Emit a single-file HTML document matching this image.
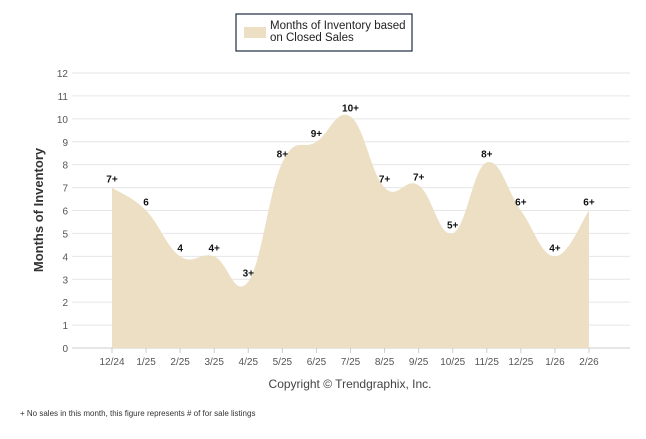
<!DOCTYPE html>
<html><head><meta charset="utf-8"><style>
body{margin:0;background:#fff;width:646px;height:434px;overflow:hidden;font-family:"Liberation Sans",sans-serif}
</style></head><body>
<svg width="646" height="434" font-family="Liberation Sans, sans-serif">
<g>
<rect x="236" y="14" width="176" height="37" fill="#fff" stroke="#1f2a44" stroke-width="1.2"/>
<rect x="244" y="27" width="22" height="11" fill="#ecdfc4"/>
<text x="270" y="29" font-size="11.5" fill="#222">Months of Inventory based</text>
<text x="270" y="41" font-size="11.5" fill="#222">on Closed Sales</text>
</g>
<g id="grid"></g>
<path id="area" fill="#ecdfc4"/>
<g id="labels"></g>
<g id="xaxis"></g>
<text transform="translate(43,210) rotate(-90)" text-anchor="middle" font-size="13" font-weight="bold" fill="#333">Months of Inventory</text>
<text x="350" y="388" text-anchor="middle" font-size="12" fill="#444">Copyright © Trendgraphix, Inc.</text>
<text x="20" y="416" font-size="8" fill="#333">+ No sales in this month, this figure represents # of for sale listings</text>
</svg>
<script>
const categories=["12/24","1/25","2/25","3/25","4/25","5/25","6/25","7/25","8/25","9/25","10/25","11/25","12/25","1/26","2/26"];
const values=[7.0,6.0,4.0,4.0,2.9,8.1,9.0,10.1,7.0,7.1,5.0,8.1,6.0,4.0,6.0];
const pointLabels=["7+","6","4","4+","3+","8+","9+","10+","7+","7+","5+","8+","6+","4+","6+"];
const yTicks=[0,1,2,3,4,5,6,7,8,9,10,11,12];
const NS="http://www.w3.org/2000/svg";
const x0=112,x1=589,yb=348,yt=73;
const xs=i=>x0+i*(x1-x0)/(categories.length-1);
const ys=v=>yb-(v/12)*(yb-yt);
function mk(t,a,p){const e=document.createElementNS(NS,t);for(const k in a)e.setAttribute(k,a[k]);p.appendChild(e);return e;}
const grid=document.getElementById('grid');
yTicks.forEach(t=>{
 const l=mk('line',{x1:72,x2:630,y1:ys(t),y2:ys(t),stroke:t===0?'#ccc':'#e6e6e6','stroke-width':1},grid);
 
 
 const tx=mk('text',{x:68,y:ys(t)+4,'text-anchor':'end','font-size':10,fill:'#555'},grid);
 tx.textContent=t;
 
 
});
const pts=values.map((v,i)=>[xs(i),ys(v)]);
let d=`M${pts[0][0]},${yb} L${pts[0][0]},${pts[0][1]}`;
const s=0.2;
for(let i=0;i<pts.length-1;i++){
 const p0=pts[Math.max(0,i-1)],p1=pts[i],p2=pts[i+1],p3=pts[Math.min(pts.length-1,i+2)];
 const c1=[p1[0]+(p2[0]-p0[0])*s,p1[1]+(p2[1]-p0[1])*s];
 const c2=[p2[0]-(p3[0]-p1[0])*s,p2[1]-(p3[1]-p1[1])*s];
 d+=` C${c1[0]},${c1[1]} ${c2[0]},${c2[1]} ${p2[0]},${p2[1]}`;
}
d+=` L${pts[pts.length-1][0]},${yb} Z`;
document.getElementById('area').setAttribute('d',d);
const lab=document.getElementById('labels'),xa=document.getElementById('xaxis');
categories.forEach((c,i)=>{
 const t=mk('text',{x:xs(i),y:ys(values[i])-5,'text-anchor':'middle','font-size':10,'font-weight':'bold',fill:'#111'},lab);
 t.textContent=pointLabels[i];
 
 
 const tk=mk('line',{x1:xs(i),x2:xs(i),y1:yb,y2:yb+5,stroke:'#ccc'},xa);
 
 
 const xl=mk('text',{x:xs(i),y:365,'text-anchor':'middle','font-size':10,fill:'#555'},xa);
 xl.textContent=c;
 
 
});
</script>
</body></html>
